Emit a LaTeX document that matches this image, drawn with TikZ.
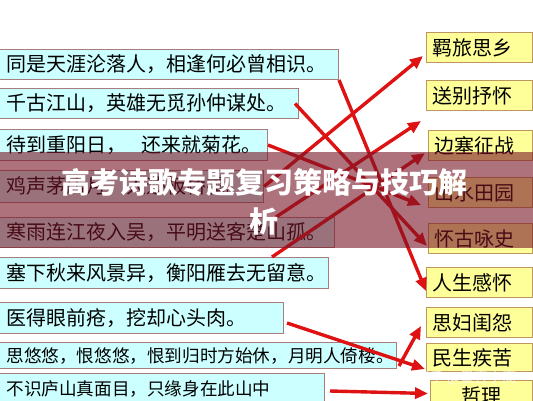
\documentclass[tikz,border=0pt]{standalone}
\usepackage{fontspec}
\newfontfamily\cjk{Noto Sans CJK SC}
\usetikzlibrary{arrows.meta,calc}
\definecolor{pfill}{RGB}{204,255,255}
\definecolor{pborder}{RGB}{170,125,125}
\definecolor{yfill}{RGB}{255,255,153}
\definecolor{yborder}{RGB}{190,150,95}
\definecolor{arrowred}{RGB}{222,18,18}
\definecolor{bandcol}{RGB}{120,20,38}
\begin{document}
\begin{tikzpicture}[x=1pt,y=-1pt,
  poem/.style={draw=pborder,fill=pfill,line width=1pt,anchor=north west,inner xsep=0pt,inner ysep=0pt,
    align=left,font=\cjk\fontsize{20}{24}\selectfont},
  smallpoem/.style={poem,font=\cjk\fontsize{17.6}{22}\selectfont},
  topic/.style={draw=yborder,fill=yfill,line width=1pt,anchor=north west,inner xsep=0pt,inner ysep=0pt,
    text width=106pt,minimum height=30pt,align=left,font=\cjk\fontsize{20}{24}\selectfont},
  link/.style={draw=arrowred,line width=3.4pt,-{Triangle[length=13pt,width=11pt]}},
  title/.style={text=white,align=center,font=\cjk\bfseries\fontsize{29}{39}\selectfont},
  wmark/.style={text=white,opacity=0.75,font=\cjk\fontsize{14}{16}\selectfont}]
\useasboundingbox (0,0) rectangle (533,400);
\fill[white] (0,0) rectangle (533,400);

% poem boxes
\node[poem,text width=339pt,minimum height=30pt] (B1) at (-1,49) {\hspace*{7pt}\mbox{同是天涯沦落人，相逢何必曾相识。}};
\node[poem,text width=299pt,minimum height=30pt] (B2) at (-1,88) {\hspace*{7pt}\mbox{千古江山，英雄无觅孙仲谋处。}};
\node[poem,text width=268pt,minimum height=31pt] (B3) at (-1,129) {\hspace*{7pt}\mbox{待到重阳日，\hspace{15pt}还来就菊花。}};
\node[poem,text width=264pt,minimum height=32pt] (B4) at (-1,170) {\hspace*{7pt}\mbox{鸡声茅店月，人迹板桥霜。}};
\node[poem,text width=335pt,minimum height=30pt] (B5) at (-1,217) {\hspace*{7pt}\mbox{寒雨连江夜入吴，平明送客楚山孤。}};
\node[poem,text width=329pt,minimum height=31pt] (B6) at (-1,257) {\hspace*{7pt}\mbox{塞下秋来风景异，衡阳雁去无留意。}};
\node[poem,text width=284pt,minimum height=31pt] (B7) at (-1,302) {\hspace*{7pt}\mbox{医得眼前疮，挖却心头肉。}};
\node[smallpoem,text width=397pt,minimum height=26pt] (B8) at (-1,342) {\hspace*{7pt}\mbox{思悠悠，恨悠悠，恨到归时方始休，月明人倚楼。}};
\node[smallpoem,text width=325pt,minimum height=31pt] (B9) at (-1,373) {\hspace*{7pt}\mbox{不识庐山真面目，只缘身在此山中}};

% topic boxes
\node[topic] (R1) at (426,32) {\hspace*{6pt}羁旅思乡};
\node[topic] (R2) at (426,80) {\hspace*{6pt}送别抒怀};
\node[topic,text width=104pt] (R3) at (428,130) {\hspace*{6pt}边塞征战};
\node[topic,text width=104pt] (R4) at (428,177) {\hspace*{6pt}山水田园};
\node[topic,text width=104pt] (R5) at (428,223) {\hspace*{6pt}怀古咏史};
\node[topic] (R6) at (426,267) {\hspace*{6pt}人生感怀};
\node[topic] (R7) at (426,307) {\hspace*{6pt}思妇闺怨};
\node[topic,minimum height=28pt] (R8) at (426,343) {\hspace*{6pt}民生疾苦};
\node[topic,text width=102pt,align=center] (R9) at (430,380) {哲理};

% connectors
\draw[link] (B4.east) -- ($(R1.south west)+(-3,-7)$);
\draw[link] ($(B5.north west)+(277,0)$) -- ($(R2.south west)+(-5,10)$);
\draw[link] ($(B6.north west)+(273,0)$) -- ($(R3.south west)+(-3,-8)$);
\draw[link] (B3.east) -- ($(R4.south west)+(-7,-3)$);
\draw[link] ($(B2.east)+(-4,0)$) -- ($(R5.south west)+(-1,-8)$);
\draw[link] (B1.south east) -- ($(R6.south west)+(0,-7)$);
\draw[link] ($(B7.east)+(3,5)$) -- ($(R8.south west)+(-1,-3)$);
\draw[link] ($(B8.south east)+(2,-3)$) -- ($(R7.south west)+(-5,-12)$);
\draw[link] ($(B9.east)+(5,2)$) -- ($(R9.west)+(-2,-2)$);

% title band
\fill[bandcol,opacity=0.6] (0,152) rectangle (533,248);
\node[title] (T) at (264,202) {高考诗歌专题复习策略与技巧解\\析};
\node[wmark] (W) at (466,378) {知乎 @墨客小窝};
\end{tikzpicture}
\end{document}
